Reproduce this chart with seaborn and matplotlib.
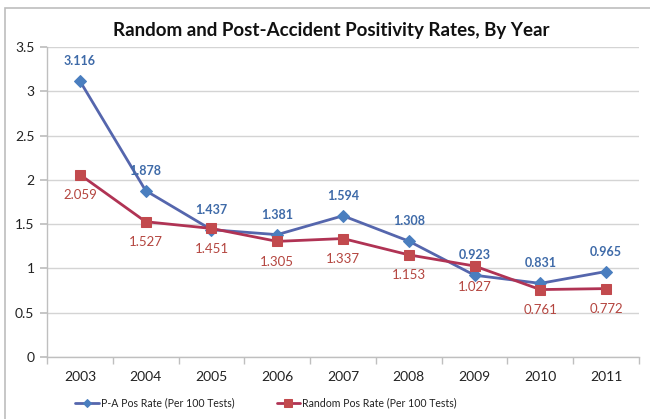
import matplotlib
matplotlib.use("Agg")
import matplotlib.pyplot as plt
import seaborn as sns
import pandas as pd
from matplotlib.patches import Rectangle

years = ["2003", "2004", "2005", "2006", "2007", "2008", "2009", "2010", "2011"]
pa_rate = [3.116, 1.878, 1.437, 1.381, 1.594, 1.308, 0.923, 0.831, 0.965]
random_rate = [2.059, 1.527, 1.451, 1.305, 1.337, 1.153, 1.027, 0.761, 0.772]
pa_name = "P-A Pos Rate (Per 100 Tests)"
random_name = "Random Pos Rate (Per 100 Tests)"
y_ticks = [0, 0.5, 1, 1.5, 2, 2.5, 3, 3.5]
y_tick_labels = ["0", "0.5", "1", "1.5", "2", "2.5", "3", "3.5"]

sns.set_theme(style="white")
plt.rcParams["font.family"] = ["Lato", "DejaVu Sans"]

blue_line = "#5566AD"
blue_marker = "#4A7EBF"
red_line = "#B03354"
red_marker = "#C24A4E"
blue_text = "#3E6AA8"
red_text = "#B4453F"

df = pd.DataFrame({
    "year": years * 2,
    "rate": pa_rate + random_rate,
    "series": [pa_name] * len(years) + [random_name] * len(years),
})

fig = plt.figure(figsize=(6.5, 4.19), dpi=100)
ax = fig.add_axes([0.0723, 0.148, 0.9107, 0.740])

sns.lineplot(data=df[df["series"] == pa_name], x="year", y="rate", ax=ax,
             color=blue_line, marker="D", markersize=6.5, markerfacecolor=blue_marker,
             markeredgecolor=blue_marker, linewidth=2.0, label=pa_name, sort=False)
sns.lineplot(data=df[df["series"] == random_name], x="year", y="rate", ax=ax,
             color=red_line, marker="s", markersize=7.5, markerfacecolor=red_marker,
             markeredgecolor=red_marker, linewidth=2.0, label=random_name, sort=False)

ax.set_xlim(-0.5, len(years) - 0.5)
ax.set_ylim(0, 3.5)
ax.set_yticks(y_ticks)
ax.set_yticklabels(y_tick_labels)
ax.set_xlabel("")
ax.set_ylabel("")
ax.yaxis.grid(True, color="#D4D4D4", linewidth=1.0)
ax.set_axisbelow(True)

# category boundary ticks on the x axis
ax.set_xticks(range(len(years)))
ax.set_xticklabels(years)
ax.set_xticks([i - 0.5 for i in range(len(years) + 1)], minor=True)
ax.tick_params(axis="x", which="major", length=0, pad=10, labelsize=10, colors="#222222")
ax.tick_params(axis="x", which="minor", length=5, color="#BFBFBF", direction="out", bottom=True)
ax.tick_params(axis="y", which="major", length=5, color="#BFBFBF", direction="out", left=True,
               labelsize=10, colors="#222222", pad=4)

for side in ["top", "right"]:
    ax.spines[side].set_visible(False)
for side in ["left", "bottom"]:
    ax.spines[side].set_color("#BFBFBF")
    ax.spines[side].set_linewidth(1.0)

for i, v in enumerate(pa_rate):
    ax.annotate(f"{v:.3f}", (i, v), xytext=(0, 10), textcoords="offset points",
                ha="center", va="bottom", fontsize=9, fontweight="bold", color=blue_text)
for i, v in enumerate(random_rate):
    ax.annotate(f"{v:.3f}", (i, v), xytext=(0, -10.5), textcoords="offset points",
                ha="center", va="top", fontsize=9.5, color=red_text)

fig.text(0.51, 0.927, "Random and Post-Accident Positivity Rates, By Year",
         ha="center", va="center", fontsize=13.5, fontweight="bold", color="#111111")

leg = ax.legend(loc="upper center", bbox_to_anchor=(0.37, -0.10), ncol=2, frameon=False,
                fontsize=7.6, handlelength=2.2, columnspacing=4.0, handletextpad=0.2,
                markerscale=0.7)
for t in leg.get_texts():
    t.set_color("#222222")

# chart frame
fig.patches.append(Rectangle((5 / 650, -0.05), 1.2, 1.05 - 8 / 419,
                             transform=fig.transFigure, fill=False,
                             edgecolor="#BDBDBD", linewidth=1.2, clip_on=False))

fig.savefig("out.png", dpi=100)
